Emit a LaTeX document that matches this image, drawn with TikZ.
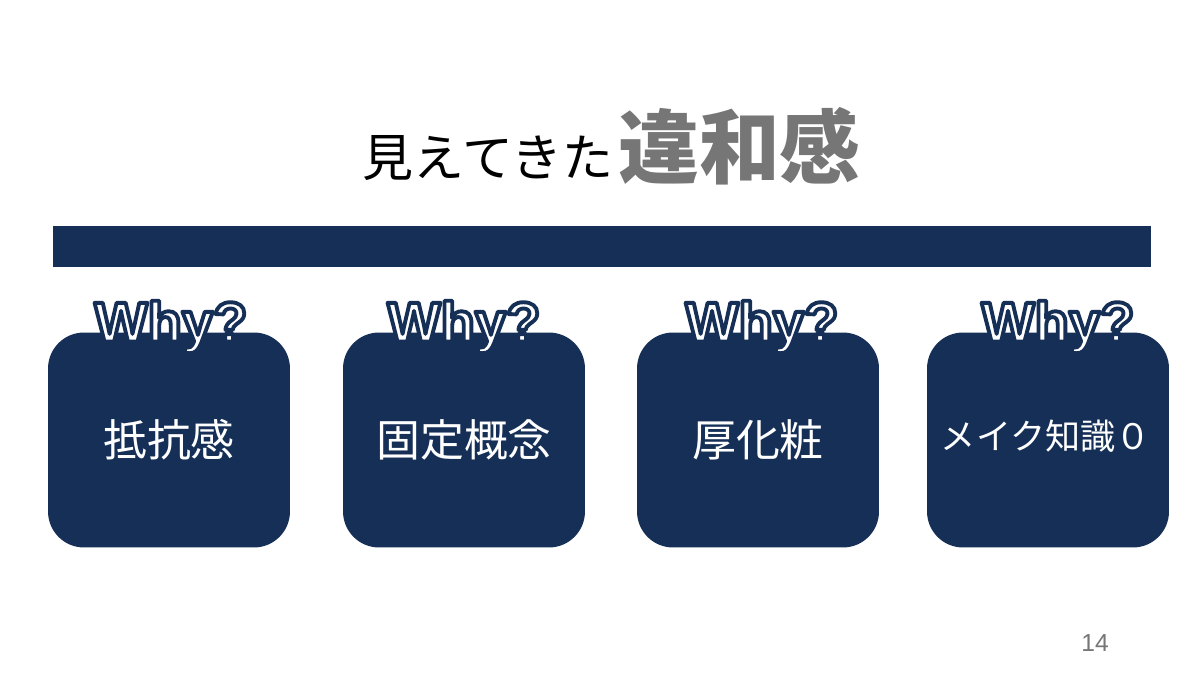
\documentclass[tikz,border=0pt]{standalone}
\usepackage{fontspec}
\setmainfont{Liberation Sans}
\newfontfamily\jpfont{Noto Sans CJK JP}
\usetikzlibrary{positioning}
\definecolor{navy}{RGB}{21,47,86}
\definecolor{titlegray}{RGB}{118,118,118}
% outlined text: white fill, navy stroke
\newcommand{\outlined}[1]{%
  \special{pdf:literal direct 2 Tr 2.2 w 1 j 0.082 0.184 0.337 RG}#1\special{pdf:literal direct 0 Tr}}
\tikzset{
  box/.style={fill=navy, rounded corners=0.72cm, minimum width=4.84cm, minimum height=4.3cm, inner sep=0pt},
  boxtext/.style={text=white, font=\jpfont\fontsize{25}{25}\selectfont},
  whytext/.style={text=white, font=\bfseries\fontsize{32}{32}\selectfont, inner sep=0pt}
}
\begin{document}
\begin{tikzpicture}[x=0.02cm,y=-0.02cm]
      \useasboundingbox (0,0) rectangle (1200,675);
      \fill[white] (0,0) rectangle (1200,675);
      % title
      \node[anchor=base east, inner sep=0pt, font=\jpfont\fontsize{29}{29}\selectfont] (title1) at (614,177) {見えてきた};
      \node[anchor=base west, inner sep=0pt, text=titlegray, font=\jpfont\bfseries\fontsize{46}{46}\selectfont] (title2) at (618,178) {違和感};
      % bar
      \draw[fill=navy, draw=navy] (53,226) rectangle (1150,266);
      % boxes
      \node[box] (b1) at (169,440) {};
      \node[box] (b2) at (464,440) {};
      \node[box] (b3) at (758,440) {};
      \node[box] (b4) at (1048,440) {};
      \node[boxtext] (t1) at (169,440) {抵抗感};
      \node[boxtext] (t2) at (464,440) {固定概念};
      \node[boxtext] (t3) at (758,440) {厚化粧};
      \node[boxtext, font=\jpfont\fontsize{20}{20}\selectfont] (t4) at (1046,436) {メイク知識０};
      % why labels
      \node[whytext] (why1) at (171,327) {\outlined{Why?}};
      \node[whytext] (why2) at (464,327) {\outlined{Why?}};
      \node[whytext] (why3) at (762,327) {\outlined{Why?}};
      \node[whytext] (why4) at (1058,327) {\outlined{Why?}};
      % page number
      \node[text=titlegray, font=\fontsize{14}{14}\selectfont] (pg) at (1095,643) {14};
\end{tikzpicture}
\end{document}
